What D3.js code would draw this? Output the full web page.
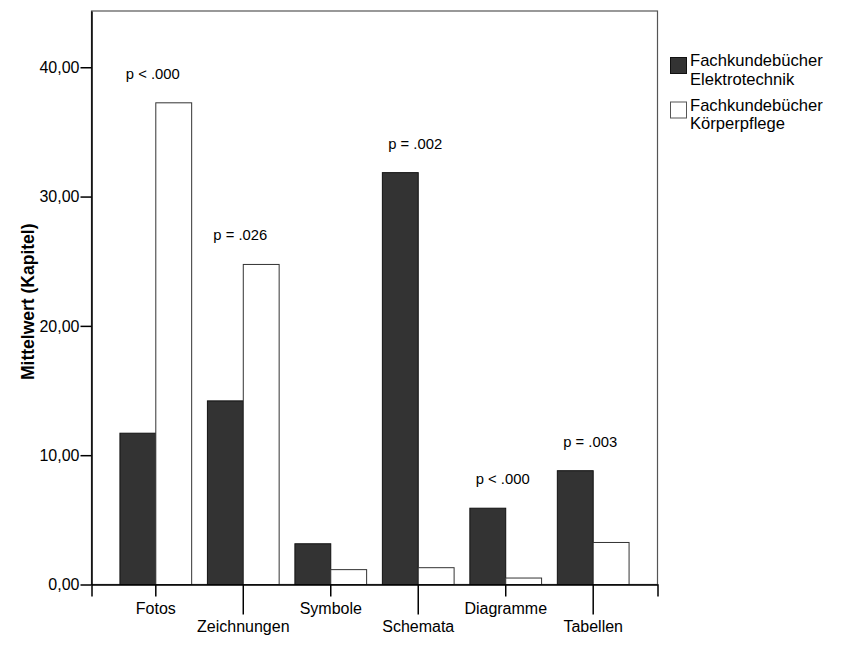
<!DOCTYPE html>
<html>
<head>
<meta charset="utf-8">
<script src="https://cdn.jsdelivr.net/npm/d3@7"></script>
<style>
  body { margin: 0; background: #fff; }
  text { font-family: "Liberation Sans", Arial, sans-serif; fill: #000; }
</style>
</head>
<body>
<div id="chart"></div>
<script>
// data
var categories = ["Fotos", "Zeichnungen", "Symbole", "Schemata", "Diagramme", "Tabellen"];
var seriesNames = ["Fachkundebücher\nElektrotechnik", "Fachkundebücher\nKörperpflege"];
var elektro = [11.7, 14.2, 3.15, 31.85, 5.9, 8.8];
var koerper = [37.25, 24.75, 1.15, 1.3, 0.5, 3.25];
var pLabels = ["p < .000", "p = .026", null, "p = .002", "p < .000", "p = .003"];
var yTicks = [0, 10, 20, 30, 40];

var svgWidth = 850;
var svgHeight = 647;

var margin = { top: 11, right: 193, bottom: 63, left: 91.5 };
var width = 657.5 - margin.left;
var height = 584.5 - margin.top;

var svg = d3.select("#chart")
  .append("svg")
  .attr("width", svgWidth)
  .attr("height", svgHeight);

var chartGroup = svg.append("g")
  .attr("transform", `translate(${margin.left}, ${margin.top})`);

var colors = ["#333333", "#ffffff"];
var strokes = ["#111111", "#333333"];

// scales
var xScale = d3.scaleBand()
  .domain(categories)
  .range([0, width])
  .paddingInner(0.18)
  .paddingOuter(0.325);

var xInner = d3.scaleBand()
  .domain([0, 1])
  .range([0, xScale.bandwidth()]);

var yScale = d3.scaleLinear()
  .domain([0, 44.35])
  .range([height, 0]);

// frame (top and right edges)
chartGroup.append("rect")
  .attr("x", 0)
  .attr("y", 0)
  .attr("width", width)
  .attr("height", height)
  .attr("fill", "none")
  .attr("stroke", "#555")
  .attr("stroke-width", 1.2);

// bars
var rows = categories.map(function(c, i) {
  return { cat: c, values: [elektro[i], koerper[i]], p: pLabels[i] };
});

var groups = chartGroup.selectAll(".grp")
  .data(rows)
  .enter()
  .append("g")
  .attr("class", "grp")
  .attr("transform", d => `translate(${xScale(d.cat)}, 0)`);

groups.selectAll("rect")
  .data(d => d.values.map((v, k) => ({ v: v, k: k })))
  .enter()
  .append("rect")
  .attr("x", d => xInner(d.k))
  .attr("y", d => yScale(d.v))
  .attr("width", xInner.bandwidth())
  .attr("height", d => height - yScale(d.v))
  .attr("fill", d => colors[d.k])
  .attr("stroke", d => strokes[d.k])
  .attr("stroke-width", 1);

// p value labels above each group
groups.filter(d => d.p)
  .append("text")
  .attr("x", xScale.bandwidth() / 2 - 3)
  .attr("y", d => yScale(d3.max(d.values)) - 24)
  .attr("text-anchor", "middle")
  .style("font-size", "14.8px")
  .text(d => d.p);

// y axis
var leftAxis = d3.axisLeft(yScale)
  .tickValues(yTicks)
  .tickSize(11)
  .tickSizeOuter(0)
  .tickPadding(1)
  .tickFormat(d => d3.format(".2f")(d).replace(".", ","));

var yAxisG = chartGroup.append("g")
  .call(leftAxis);
yAxisG.select(".domain").attr("stroke", "#000").attr("stroke-width", 1.5);
yAxisG.selectAll(".tick line").attr("stroke", "#000").attr("stroke-width", 1.5);
yAxisG.selectAll(".tick text")
  .style("font-size", "16px")
  .style("font-family", "'Liberation Sans', Arial, sans-serif")
  .attr("fill", "#000");

// x axis, alternating tick lengths
var bottomAxis = d3.axisBottom(xScale)
  .tickSizeOuter(0)
  .tickSize(12);

var xAxisG = chartGroup.append("g")
  .attr("transform", `translate(0, ${height})`)
  .call(bottomAxis);
xAxisG.select(".domain").attr("stroke", "#000").attr("stroke-width", 1.5);
xAxisG.selectAll(".tick line")
  .attr("stroke", "#000")
  .attr("stroke-width", 1.5)
  .attr("y2", (d, i) => i % 2 === 0 ? 12 : 30);
xAxisG.selectAll(".tick text")
  .attr("dy", null)
  .attr("y", (d, i) => i % 2 === 0 ? 29 : 47.5)
  .style("font-size", "16px")
  .style("font-family", "'Liberation Sans', Arial, sans-serif")
  .attr("fill", "#000");

// y axis title
svg.append("text")
  .attr("transform", `translate(34, ${margin.top + height / 2 + 4}) rotate(-90)`)
  .attr("text-anchor", "middle")
  .style("font-size", "17.5px")
  .style("font-weight", "bold")
  .text("Mittelwert (Kapitel)");

// legend
var legend = svg.append("g")
  .attr("transform", "translate(670, 57)");

var items = legend.selectAll(".item")
  .data(seriesNames)
  .enter()
  .append("g")
  .attr("class", "item")
  .attr("transform", (d, i) => `translate(0, ${i * 44.5})`);

items.append("rect")
  .attr("x", 0.5)
  .attr("y", 0.5)
  .attr("width", 16)
  .attr("height", 16)
  .attr("fill", (d, i) => colors[i])
  .attr("stroke", (d, i) => i === 0 ? "#111" : "#555")
  .attr("stroke-width", 1);

items.each(function(d) {
  var g = d3.select(this);
  d.split("\n").forEach(function(line, j) {
    g.append("text")
      .attr("x", 20)
      .attr("y", 9 + j * 18.6)
      .style("font-size", "16.6px")
      .text(line);
  });
});
</script>
</body>
</html>
